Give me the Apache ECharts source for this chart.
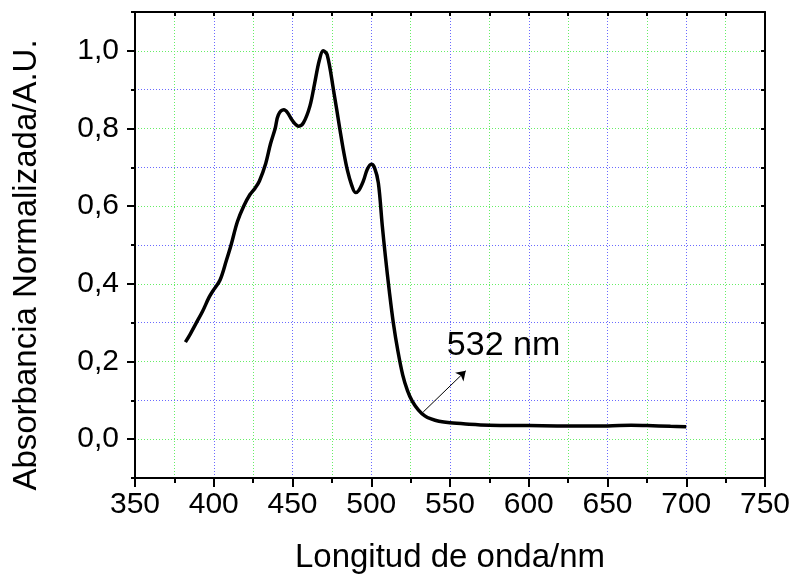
<!DOCTYPE html>
<html>
<head>
<meta charset="utf-8">
<script src="https://cdn.jsdelivr.net/npm/echarts@6/dist/echarts.min.js"></script>
<style>html,body{margin:0;padding:0;background:#fff;}#c{width:795px;height:581px;}</style>
</head>
<body>
<div id="c"></div>
<script>
const wavelength = [382,385,389,393,397,400,404,408,411,415,419,423,426,429,433,436,439,441,444.5,447,450,454,457,461,464,467,469.5,472,476,480,482.5,485,487.5,490,492,495,497.5,500,502,504.5,507,509,511.5,514,517,520,523,526,530,534,538,543,550,560,575,600,625,650,665,675,690,700];
const absorbance = [0.25,0.27,0.30,0.33,0.365,0.385,0.41,0.46,0.50,0.56,0.60,0.63,0.645,0.665,0.71,0.76,0.80,0.835,0.848,0.84,0.82,0.806,0.815,0.857,0.915,0.975,1.0,0.99,0.90,0.80,0.74,0.69,0.655,0.635,0.64,0.665,0.695,0.708,0.70,0.66,0.55,0.47,0.38,0.30,0.225,0.165,0.125,0.098,0.075,0.06,0.052,0.046,0.042,0.039,0.036,0.035,0.034,0.034,0.036,0.035,0.033,0.032];
const xMajorTicks = [350,400,450,500,550,600,650,700,750];
const yMajorTicks = [0,0.2,0.4,0.6,0.8,1.0];
const arrowTail = [533,0.07];
const arrowHead = [560,0.176];
const noteText = '532 nm';
const notePos = [584,0.24];
const xTitle = 'Longitud de onda/nm';
const yTitle = 'Absorbancia Normalizada/A.U.';

const FONT = "'Liberation Sans', Arial, sans-serif";
const BLUE = '#6a6aff';
const GREEN = '#66ee66';
const DASH = [1,2];

const chart = echarts.init(document.getElementById('c'));
const data = wavelength.map((w,i)=>[w,absorbance[i]]);

const axisLineStyle = {show:true,onZero:false,lineStyle:{color:'#000',width:2}};

chart.setOption({
  animation:false,
  backgroundColor:'#fff',
  grid:{left:135,right:30,top:12,bottom:103},
  xAxis:[
    {type:'value',position:'bottom',min:350,max:750,interval:25,
     axisLine:axisLineStyle,
     axisTick:{show:true,inside:false,length:5,lineStyle:{color:'#000',width:2}},
     splitLine:{show:true,lineStyle:{color:[BLUE,GREEN],width:1,type:DASH}},
     axisLabel:{show:true,fontSize:30,color:'#000',fontFamily:FONT,margin:12,showMinLabel:true,showMaxLabel:true,
       formatter:function(v){return Math.round(v)%50===0?String(Math.round(v)):'';}}
    },
    {type:'value',position:'bottom',min:350,max:750,interval:25,
     axisLine:{show:false,onZero:false},
     axisTick:{show:true,inside:false,length:9,customValues:xMajorTicks,lineStyle:{color:'#000',width:2}},
     axisLabel:{show:false},splitLine:{show:false}
    },
    {type:'value',position:'top',min:350,max:750,interval:25,
     axisLine:axisLineStyle,
     axisTick:{show:true,inside:true,length:4,lineStyle:{color:'#000',width:2}},
     axisLabel:{show:false},splitLine:{show:false}
    }
  ],
  yAxis:[
    {type:'value',position:'left',min:-0.1,max:1.1,interval:0.1,
     axisLine:axisLineStyle,
     axisTick:{show:true,inside:false,length:4,lineStyle:{color:'#000',width:2}},
     splitLine:{show:true,lineStyle:{color:[BLUE,GREEN],width:1,type:DASH}},
     axisLabel:{show:true,fontSize:30,color:'#000',fontFamily:FONT,margin:16,showMinLabel:true,showMaxLabel:true,
       formatter:function(v){const k=Math.round(v*10); if(k%2!==0) return ''; return (k/10).toFixed(1).replace('.',',');}}
    },
    {type:'value',position:'left',min:-0.1,max:1.1,interval:0.1,
     axisLine:{show:false,onZero:false},
     axisTick:{show:true,inside:false,length:8,customValues:yMajorTicks,lineStyle:{color:'#000',width:2}},
     axisLabel:{show:false},splitLine:{show:false}
    },
    {type:'value',position:'right',min:-0.1,max:1.1,interval:0.1,
     axisLine:axisLineStyle,
     axisTick:{show:true,inside:true,length:4,lineStyle:{color:'#000',width:2}},
     axisLabel:{show:false},splitLine:{show:false}
    }
  ],
  graphic:[
    {type:'text',x:450,y:558,style:{text:xTitle,font:"33px "+FONT,fill:'#000',textAlign:'center',textVerticalAlign:'middle'}},
    {type:'text',x:27,y:265,rotation:Math.PI/2,style:{text:yTitle,font:"33px "+FONT,fill:'#000',textAlign:'center',textVerticalAlign:'middle'}}
  ],
  series:[{
    type:'line',xAxisIndex:0,yAxisIndex:0,data:data,smooth:0.35,showSymbol:false,
    lineStyle:{color:'#000',width:3.5},
    markLine:{silent:true,animation:false,symbolSize:9,
      lineStyle:{color:'#000',width:1,type:'solid'},label:{show:false},
      data:[[{coord:arrowTail,symbol:'none'},{coord:arrowHead,symbol:'arrow'}]]},
    markPoint:{silent:true,animation:false,
      data:[{coord:notePos,symbol:'rect',symbolSize:1,itemStyle:{color:'rgba(0,0,0,0)'},
        label:{show:true,position:'inside',formatter:noteText,fontSize:34,color:'#000',fontFamily:FONT}}]}
  }]
});
</script>
</body>
</html>
